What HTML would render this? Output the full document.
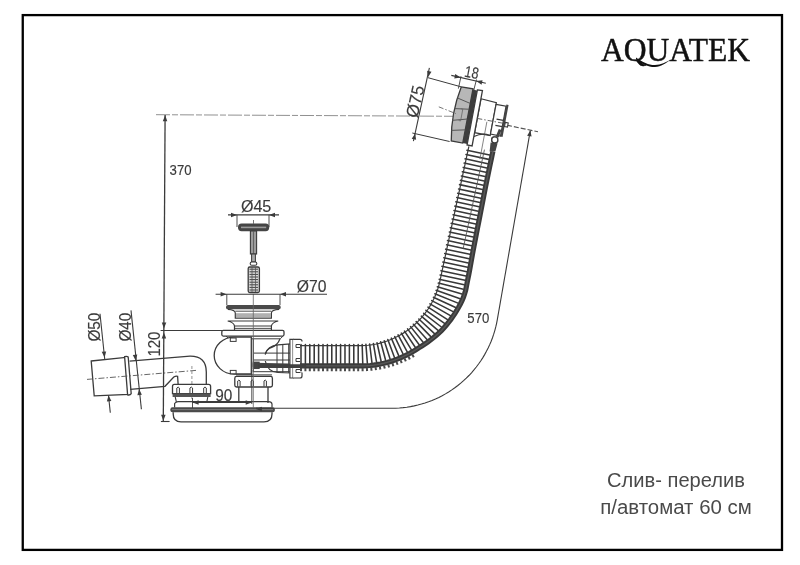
<!DOCTYPE html>
<html><head><meta charset="utf-8"><style>
html,body{margin:0;padding:0;background:#fff;width:800px;height:565px;overflow:hidden}
svg{display:block;will-change:transform}
</style></head><body>
<svg width="800" height="565" viewBox="0 0 800 565">
<rect x="22.75" y="15.1" width="759.25" height="534.8" fill="none" stroke="#000" stroke-width="2.3"/>
<text x="601.00" y="60.80" font-family="'Liberation Serif', serif" font-size="33" fill="#111" text-anchor="start" textLength="149" lengthAdjust="spacingAndGlyphs" stroke="#111" stroke-width="0.45">AQUATEK</text>
<path d="M636,57.6 C643,62.6 649,65.3 655,65.1 C661,64.9 666,62.1 670.6,59.8 C666,63.2 661,66.7 655,67 C648,67.1 642,63.9 636,59.2 Z" fill="#111"/>
<text x="676.00" y="487.30" font-family="'Liberation Sans', sans-serif" font-size="20" fill="#4a4a4a" text-anchor="middle" textLength="138" lengthAdjust="spacingAndGlyphs" >Слив- перелив</text>
<text x="676.00" y="514.30" font-family="'Liberation Sans', sans-serif" font-size="20" fill="#4a4a4a" text-anchor="middle" textLength="151.5" lengthAdjust="spacingAndGlyphs" >п/автомат 60 см</text>
<line x1="156.00" y1="114.70" x2="458.00" y2="116.30" stroke="#909090" stroke-width="1" stroke-dasharray="14 2 6 2"/>
<line x1="165.10" y1="115.00" x2="163.30" y2="421.00" stroke="#3b3b3b" stroke-width="1.3" />
<path d="M165.10,115.20 L167.31,121.21 L162.81,121.19 Z" fill="#3b3b3b"/>
<path d="M164.00,328.60 L161.79,322.59 L166.29,322.61 Z" fill="#3b3b3b"/>
<path d="M163.95,332.40 L166.16,338.41 L161.66,338.39 Z" fill="#3b3b3b"/>
<path d="M163.30,420.80 L161.09,414.79 L165.59,414.81 Z" fill="#3b3b3b"/>
<line x1="160.90" y1="421.50" x2="169.60" y2="421.50" stroke="#3b3b3b" stroke-width="1.1" />
<line x1="160.60" y1="330.50" x2="222.00" y2="330.50" stroke="#3b3b3b" stroke-width="1.1" />
<text x="169.60" y="175.00" font-family="'Liberation Sans', sans-serif" font-size="14" fill="#3b3b3b" text-anchor="start" textLength="22" lengthAdjust="spacingAndGlyphs" stroke="#3b3b3b" stroke-width="0.15">370</text>
<text x="159.80" y="356.60" font-family="'Liberation Sans', sans-serif" font-size="17" fill="#3b3b3b" text-anchor="start" textLength="25" lengthAdjust="spacingAndGlyphs" transform="rotate(-90 159.80 356.60)" stroke="#3b3b3b" stroke-width="0.15">120</text>
<line x1="100.00" y1="313.80" x2="110.30" y2="412.80" stroke="#3b3b3b" stroke-width="1.1" />
<path d="M104.55,357.60 L101.69,351.86 L106.17,351.40 Z" fill="#3b3b3b"/>
<path d="M108.50,395.30 L111.36,401.04 L106.88,401.50 Z" fill="#3b3b3b"/>
<text x="100.50" y="341.60" font-family="'Liberation Sans', sans-serif" font-size="17" fill="#3b3b3b" text-anchor="start" textLength="28.9" lengthAdjust="spacingAndGlyphs" transform="rotate(-90 100.50 341.60)" stroke="#3b3b3b" stroke-width="0.15">Ø50</text>
<line x1="131.00" y1="310.40" x2="141.40" y2="409.30" stroke="#3b3b3b" stroke-width="1.1" />
<path d="M135.70,360.80 L132.84,355.07 L137.31,354.60 Z" fill="#3b3b3b"/>
<path d="M139.00,389.00 L141.86,394.73 L137.39,395.20 Z" fill="#3b3b3b"/>
<text x="131.50" y="341.60" font-family="'Liberation Sans', sans-serif" font-size="17" fill="#3b3b3b" text-anchor="start" textLength="28.9" lengthAdjust="spacingAndGlyphs" transform="rotate(-90 131.50 341.60)" stroke="#3b3b3b" stroke-width="0.15">Ø40</text>
<path d="M91.2,361 L125.6,357.4 L128.7,394.4 L94.2,395.8 Z" stroke="#3b3b3b" stroke-width="1.3" fill="#fff" />
<path d="M124.6,356.6 Q127,355.8 128.2,357 L131.2,393.6 Q130,395.6 127.6,394.8 Z" stroke="#3b3b3b" stroke-width="1.3" fill="#fff" />
<path d="M129.6,361.2 L190,356.2 Q206.2,356 206.3,372 L206.3,384" stroke="#3b3b3b" stroke-width="1.3" fill="none" />
<path d="M130.2,389.4 L165,386.3 L173.8,377 Q176,375.6 177.6,376.3 L178.1,384" stroke="#3b3b3b" stroke-width="1.3" fill="none" />
<line x1="87.00" y1="379.40" x2="196.00" y2="370.40" stroke="#555" stroke-width="0.9" stroke-dasharray="6 2 1.5 2"/>
<line x1="191.90" y1="366.00" x2="191.90" y2="402.00" stroke="#777" stroke-width="0.8" stroke-dasharray="3 2"/>
<path d="M174.4,384.4 L208.6,384.4 Q210.6,384.4 210.6,386.4 L210.6,393.7 L172.5,393.7 L172.5,386.4 Q172.5,384.4 174.4,384.4 Z" stroke="#3b3b3b" stroke-width="1.3" fill="#fff" />
<path d="M176.79999999999998,393 L176.79999999999998,388 Q178.1,386 179.4,388 L179.4,393" stroke="#3b3b3b" stroke-width="1" fill="none" />
<path d="M189.95,393 L189.95,388 Q191.25,386 192.55,388 L192.55,393" stroke="#3b3b3b" stroke-width="1" fill="none" />
<path d="M203.7,393 L203.7,388 Q205,386 206.3,388 L206.3,393" stroke="#3b3b3b" stroke-width="1" fill="none" />
<rect x="172.6" y="393.6" width="38" height="3.4" fill="#555"/>
<path d="M175.2,397 L176.4,401.8 M207.8,397 L206.8,401.8" stroke="#3b3b3b" stroke-width="1.1" fill="none" />
<path d="M236.6,376.4 L270.6,376.4 Q272.4,376.4 272.4,378.2 L272.4,385.2 Q272.4,387 270.6,387 L236.6,387 Q234.8,387 234.8,385.2 L234.8,378.2 Q234.8,376.4 236.6,376.4 Z" stroke="#3b3b3b" stroke-width="1.3" fill="#fff" />
<path d="M237.70000000000002,386.5 L237.70000000000002,381 Q238.9,379 240.1,381 L240.1,386.5" stroke="#3b3b3b" stroke-width="1" fill="none" />
<path d="M251.10000000000002,386.5 L251.10000000000002,381 Q252.3,379 253.5,381 L253.5,386.5" stroke="#3b3b3b" stroke-width="1" fill="none" />
<path d="M264.0,386.5 L264.0,381 Q265.2,379 266.4,381 L266.4,386.5" stroke="#3b3b3b" stroke-width="1" fill="none" />
<path d="M238.8,387 L238.8,403 M268,387 L268,403" stroke="#3b3b3b" stroke-width="1.3" fill="none" />
<path d="M174.6,407.4 L174.6,403.5 Q176,401.7 178,401.7 L268.5,401.7 Q271.6,401.7 272,404 L272,407.4" stroke="#3b3b3b" stroke-width="1.2" fill="none" />
<rect x="170.4" y="407.3" width="104.4" height="4.9" rx="2" fill="#4a4a4a"/>
<line x1="172.00" y1="409.60" x2="273.00" y2="409.60" stroke="#888" stroke-width="0.8" />
<path d="M173.2,412.2 L173.2,414 Q173.2,421.8 181,421.8 L264,421.8 Q272,421.8 272,414 L272,412.2" stroke="#3b3b3b" stroke-width="1.3" fill="none" />
<line x1="192.50" y1="402.50" x2="251.80" y2="402.50" stroke="#3b3b3b" stroke-width="1.1" />
<path d="M192.60,402.50 L198.60,400.25 L198.60,404.75 Z" fill="#3b3b3b"/>
<path d="M251.70,402.50 L245.70,404.75 L245.70,400.25 Z" fill="#3b3b3b"/>
<line x1="192.50" y1="398.00" x2="192.50" y2="408.00" stroke="#3b3b3b" stroke-width="0.9" />
<line x1="251.80" y1="370.00" x2="251.80" y2="404.00" stroke="#3b3b3b" stroke-width="0.9" />
<text x="215.20" y="400.90" font-family="'Liberation Sans', sans-serif" font-size="16" fill="#3b3b3b" text-anchor="start" textLength="17.1" lengthAdjust="spacingAndGlyphs" stroke="#3b3b3b" stroke-width="0.15">90</text>
<path d="M530.35,130.30 L529.66,134.24 L528.98,138.19 L528.29,142.13 L527.60,146.08 L526.91,150.02 L526.22,153.97 L525.53,157.91 L524.85,161.86 L524.16,165.80 L523.47,169.75 L522.78,173.69 L522.09,177.64 L521.40,181.58 L520.71,185.53 L520.03,189.47 L519.34,193.42 L518.65,197.36 L517.96,201.30 L517.27,205.25 L516.58,209.19 L515.90,213.14 L515.21,217.08 L514.52,221.03 L513.83,224.97 L513.14,228.92 L512.45,232.86 L511.76,236.81 L511.08,240.75 L510.39,244.70 L509.70,248.64 L509.01,252.59 L508.32,256.53 L507.63,260.48 L506.95,264.42 L506.26,268.37 L505.57,272.31 L504.88,276.25 L504.19,280.20 L503.50,284.14 L502.81,288.09 L502.13,292.03 L501.44,295.98 L500.75,299.92 L500.06,303.87 L499.37,307.81 L498.68,311.76 L498.00,315.70 L497.31,319.65 L496.60,323.32 L495.76,326.96 L494.80,330.58 L493.71,334.15 L492.50,337.69 L491.17,341.19 L489.71,344.63 L488.14,348.02 L486.44,351.36 L484.63,354.63 L482.71,357.84 L480.68,360.98 L478.54,364.04 L476.29,367.03 L473.94,369.94 L471.49,372.76 L468.94,375.50 L466.30,378.15 L463.57,380.70 L460.75,383.16 L457.85,385.51 L454.86,387.77 L451.80,389.91 L448.66,391.95 L445.46,393.88 L442.19,395.69 L438.86,397.39 L435.47,398.98 L432.03,400.44 L428.54,401.78 L425.00,403.00 L421.43,404.09 L417.82,405.06 L414.17,405.91 L410.50,406.62 L406.81,407.21 L403.10,407.66 L399.37,407.99 L395.64,408.18 L391.90,408.25 L256.00,408.25" stroke="#3b3b3b" stroke-width="1.1" fill="none"/>
<path d="M530.40,130.30 L531.57,136.60 L527.14,135.82 Z" fill="#3b3b3b"/>
<path d="M255.90,409.10 L261.90,406.85 L261.90,411.35 Z" fill="#3b3b3b"/>
<text x="467.30" y="322.70" font-family="'Liberation Sans', sans-serif" font-size="14.5" fill="#3b3b3b" text-anchor="start" textLength="22" lengthAdjust="spacingAndGlyphs" stroke="#3b3b3b" stroke-width="0.15">570</text>
<line x1="507.00" y1="125.20" x2="538.00" y2="131.80" stroke="#555" stroke-width="1.1" stroke-dasharray="5 2"/>
<rect x="226" y="305" width="54.7" height="4.4" rx="2" fill="#4a4a4a"/>
<path d="M228,309.4 Q235,309.8 235.3,313 L235.3,318.2 L271.4,318.2 L271.4,313 Q271.6,309.8 279,309.4" stroke="#3b3b3b" stroke-width="1.2" fill="#fff" />
<line x1="235.30" y1="311.20" x2="271.40" y2="311.20" stroke="#3b3b3b" stroke-width="0.9" />
<rect x="236" y="313.2" width="35" height="4" fill="#b0b0b0"/>
<path d="M227.7,321 L278.2,321 Q272,322.5 271.4,326 L271.4,330.3 M227.7,321 Q234,322.5 234.5,326 L234.5,330.3" stroke="#3b3b3b" stroke-width="1.2" fill="none" />
<line x1="234.50" y1="328.40" x2="271.40" y2="328.40" stroke="#3b3b3b" stroke-width="0.9" />
<line x1="234.50" y1="326.00" x2="271.40" y2="326.00" stroke="#3b3b3b" stroke-width="1" />
<rect x="221.8" y="330.3" width="62.2" height="5.8" rx="1.5" fill="#fff" stroke="#3b3b3b" stroke-width="1.3"/>
<path d="M226,336.1 L229,338.8 L280.3,338.8 L283,336.1" stroke="#3b3b3b" stroke-width="1" fill="none" />
<path d="M251.3,337.2 L234,337.2 A19.8,18.4 0 0 0 234,374 L251.3,374 Z" stroke="#3b3b3b" stroke-width="1.3" fill="#fff" />
<rect x="230.3" y="338" width="5.8" height="3.4" fill="#fff" stroke="#3b3b3b" stroke-width="1"/>
<rect x="230.3" y="370.4" width="5.8" height="3.4" fill="#fff" stroke="#3b3b3b" stroke-width="1"/>
<line x1="253.30" y1="338.80" x2="253.30" y2="372.00" stroke="#3b3b3b" stroke-width="1.1" />
<path d="M280,338.8 Q277.5,345.8 270.6,347.8 Q265.6,350.5 265.3,354.4" stroke="#3b3b3b" stroke-width="1.2" fill="none" />
<path d="M265.3,354.4 Q267.5,345.8 278,344.9 L290.8,343.8 M265.3,361 Q267.5,372 278,372.5 L290.8,373" stroke="#3b3b3b" stroke-width="1.2" fill="none" />
<line x1="253.80" y1="353.10" x2="290.00" y2="353.10" stroke="#3b3b3b" stroke-width="1" />
<line x1="253.80" y1="360.00" x2="290.00" y2="360.00" stroke="#3b3b3b" stroke-width="1" />
<line x1="277.00" y1="345.00" x2="277.00" y2="372.40" stroke="#3b3b3b" stroke-width="1" />
<line x1="282.80" y1="344.60" x2="282.80" y2="372.70" stroke="#3b3b3b" stroke-width="1" />
<line x1="288.70" y1="344.00" x2="288.70" y2="372.90" stroke="#3b3b3b" stroke-width="1" />
<line x1="253.00" y1="371.70" x2="290.00" y2="371.70" stroke="#3b3b3b" stroke-width="1" />
<line x1="236.00" y1="374.90" x2="272.00" y2="374.90" stroke="#3b3b3b" stroke-width="1" />
<line x1="252.70" y1="364.80" x2="300.00" y2="365.80" stroke="#444" stroke-width="4" />
<rect x="252.7" y="361.6" width="7" height="7.4" fill="#444"/>
<path d="M289.9,339.3 L293.1,339.3 L293.1,378 L289.9,378 Z" stroke="#3b3b3b" stroke-width="1.2" fill="#fff" />
<path d="M293.1,339.3 L300,339.3 Q302,339.3 302,341.3 L302,376 Q302,378 300,378 L293.1,378" stroke="#3b3b3b" stroke-width="1.2" fill="#fff" />
<path d="M302,344.5 L296,344.5 L296,347.5 L302,347.5" stroke="#3b3b3b" stroke-width="1" fill="none" />
<path d="M302,358.5 L296,358.5 L296,361.5 L302,361.5" stroke="#3b3b3b" stroke-width="1" fill="none" />
<path d="M302,369.5 L296,369.5 L296,372.5 L302,372.5" stroke="#3b3b3b" stroke-width="1" fill="none" />
<line x1="253.30" y1="294.00" x2="253.30" y2="408.00" stroke="#666" stroke-width="0.8" />
<line x1="228.00" y1="214.90" x2="279.00" y2="214.90" stroke="#3b3b3b" stroke-width="1.1" />
<path d="M237.00,214.90 L231.00,217.15 L231.00,212.65 Z" fill="#3b3b3b"/>
<path d="M269.00,214.90 L275.00,212.65 L275.00,217.15 Z" fill="#3b3b3b"/>
<line x1="237.00" y1="214.90" x2="237.00" y2="227.00" stroke="#3b3b3b" stroke-width="0.9" />
<line x1="269.00" y1="214.90" x2="269.00" y2="227.00" stroke="#3b3b3b" stroke-width="0.9" />
<text x="240.90" y="211.90" font-family="'Liberation Sans', sans-serif" font-size="15.8" fill="#3b3b3b" text-anchor="start" textLength="30.4" lengthAdjust="spacingAndGlyphs" stroke="#3b3b3b" stroke-width="0.15">Ø45</text>
<rect x="238" y="223.6" width="31.2" height="7.6" rx="3.6" fill="#454545"/>
<rect x="241" y="226.6" width="25.2" height="1.6" fill="#9a9a9a"/>
<line x1="253.50" y1="220.00" x2="253.50" y2="224.00" stroke="#666" stroke-width="0.9" />
<rect x="250.4" y="231" width="6.2" height="23" fill="#9c9c9c" stroke="#3b3b3b" stroke-width="1.1"/>
<line x1="253.50" y1="231.00" x2="253.50" y2="254.00" stroke="#555" stroke-width="0.8" />
<rect x="251.6" y="254" width="3.8" height="8" fill="#aaa" stroke="#3b3b3b" stroke-width="1"/>
<rect x="250.2" y="262" width="6.6" height="3.2" rx="1.5" fill="#fff" stroke="#3b3b3b" stroke-width="1.1"/>
<rect x="248.2" y="267" width="11.2" height="25.5" rx="1.5" fill="#d8d8d8" stroke="#3b3b3b" stroke-width="1.3"/>
<line x1="249.50" y1="269.20" x2="258.00" y2="269.20" stroke="#444" stroke-width="1" />
<line x1="249.50" y1="271.80" x2="258.00" y2="271.80" stroke="#444" stroke-width="1" />
<line x1="249.50" y1="274.40" x2="258.00" y2="274.40" stroke="#444" stroke-width="1" />
<line x1="249.50" y1="277.00" x2="258.00" y2="277.00" stroke="#444" stroke-width="1" />
<line x1="249.50" y1="279.60" x2="258.00" y2="279.60" stroke="#444" stroke-width="1" />
<line x1="249.50" y1="282.20" x2="258.00" y2="282.20" stroke="#444" stroke-width="1" />
<line x1="249.50" y1="284.80" x2="258.00" y2="284.80" stroke="#444" stroke-width="1" />
<line x1="249.50" y1="287.40" x2="258.00" y2="287.40" stroke="#444" stroke-width="1" />
<line x1="249.50" y1="290.00" x2="258.00" y2="290.00" stroke="#444" stroke-width="1" />
<line x1="252.00" y1="267.00" x2="252.00" y2="292.00" stroke="#555" stroke-width="0.8" />
<line x1="255.50" y1="267.00" x2="255.50" y2="292.00" stroke="#555" stroke-width="0.8" />
<line x1="215.60" y1="294.20" x2="327.00" y2="294.20" stroke="#3b3b3b" stroke-width="1.1" />
<path d="M226.60,294.20 L220.60,296.45 L220.60,291.95 Z" fill="#3b3b3b"/>
<path d="M280.00,294.20 L286.00,291.95 L286.00,296.45 Z" fill="#3b3b3b"/>
<line x1="226.80" y1="294.20" x2="226.80" y2="305.00" stroke="#3b3b3b" stroke-width="0.9" />
<line x1="280.00" y1="294.20" x2="280.00" y2="305.00" stroke="#3b3b3b" stroke-width="0.9" />
<text x="296.80" y="292.00" font-family="'Liberation Sans', sans-serif" font-size="16" fill="#3b3b3b" text-anchor="start" textLength="29.7" lengthAdjust="spacingAndGlyphs" stroke="#3b3b3b" stroke-width="0.15">Ø70</text>
<path d="M300.00,356.90 L359.70,356.90 L362.87,356.86 L366.04,356.72 L369.20,356.47 L372.35,356.11 L375.49,355.64 L378.61,355.07 L381.71,354.39 L384.78,353.60 L387.83,352.72 L390.85,351.72 L393.83,350.63 L396.77,349.44 L399.67,348.14 L402.53,346.75 L405.34,345.26 L408.09,343.68 L410.79,342.01 L413.44,340.24 L416.11,338.50 L418.72,336.66 L421.27,334.73 L423.76,332.72 L426.20,330.64 L428.58,328.47 L430.89,326.23 L433.11,323.88 L435.23,321.44 L437.26,318.92 L439.21,316.33 L441.09,313.68 L442.88,310.97 L444.58,308.19 L446.19,305.35 L447.71,302.45 L449.14,299.51 L450.48,296.51 L451.65,293.44 L452.67,290.32 L453.57,287.16 L454.24,283.95 L455.06,279.97 L455.89,276.01 L456.71,272.04 L457.51,268.07 L458.29,264.10 L459.08,260.13 L459.86,256.16 L460.64,252.18 L461.44,248.21 L462.25,244.25 L463.07,240.28 L463.88,236.31 L464.69,232.35 L465.50,228.38 L466.32,224.41 L467.13,220.45 L467.94,216.48 L468.76,212.51 L469.57,208.55 L470.38,204.58 L471.19,200.62 L472.01,196.65 L472.82,192.68 L473.63,188.72 L474.44,184.75 L475.26,180.78 L476.09,176.82 L476.93,172.86 L477.77,168.90 L478.61,164.94 L479.45,160.98 L480.29,157.02 L481.13,153.06 L481.96,149.09" stroke="#fff" stroke-width="31" fill="none"/>
<path d="M300.00,354.60 L359.70,354.60 L362.79,354.55 L365.88,354.39 L368.96,354.13 L372.03,353.76 L375.08,353.29 L378.12,352.72 L381.14,352.04 L384.13,351.26 L387.09,350.38 L390.02,349.40 L392.92,348.32 L395.78,347.14 L398.60,345.87 L401.37,344.50 L404.09,343.04 L406.76,341.48 L409.38,339.84 L411.94,338.11 L414.44,336.29 L416.88,334.39 L419.25,332.41 L421.56,330.34 L423.79,328.21 L426.02,326.06 L428.18,323.84 L430.28,321.56 L432.30,319.19 L434.23,316.76 L436.09,314.26 L437.86,311.70 L439.55,309.07 L441.15,306.38 L442.65,303.64 L444.07,300.84 L445.39,298.00 L446.62,295.11 L447.74,292.17 L448.77,289.20 L449.70,286.18 L450.53,283.12 L451.37,279.18 L452.23,275.22 L453.08,271.26 L453.93,267.30 L454.78,263.35 L455.63,259.39 L456.48,255.43 L457.33,251.47 L458.19,247.51 L459.04,243.56 L459.89,239.60 L460.74,235.64 L461.59,231.68 L462.44,227.72 L463.29,223.76 L464.15,219.81 L465.00,215.85 L465.85,211.89 L466.70,207.93 L467.55,203.97 L468.40,200.01 L469.25,196.06 L470.11,192.10 L470.96,188.14 L471.81,184.18 L472.66,180.22 L473.51,176.27 L474.36,172.31 L475.21,168.35 L476.07,164.39 L476.92,160.43 L477.77,156.47 L478.62,152.52 L479.47,148.56" stroke="#3d3d3d" stroke-width="1" fill="none" stroke-dasharray="0" style="display:none"/>
<path d="M301.00,344.60 L301.00,363.40 M305.40,344.60 L305.40,363.40 M309.80,344.60 L309.80,363.40 M314.20,344.60 L314.20,363.40 M318.60,344.60 L318.60,363.40 M323.00,344.60 L323.00,363.40 M327.39,344.60 L327.40,363.40 M331.79,344.60 L331.80,363.40 M336.19,344.60 L336.20,363.40 M340.59,344.60 L340.60,363.40 M344.99,344.60 L345.00,363.40 M349.39,344.60 L349.40,363.40 M353.79,344.60 L353.80,363.40 M358.19,344.60 L358.20,363.40 M362.17,344.56 L362.75,363.38 M365.92,344.35 L367.37,363.17 M369.65,343.98 L371.97,362.75 M373.36,343.44 L376.56,362.13 M377.04,342.71 L381.11,361.28 M380.69,341.82 L385.62,360.23 M384.29,340.77 L390.09,358.98 M387.83,339.55 L394.48,357.50 M391.32,338.17 L398.81,355.83 M394.74,336.62 L403.06,353.97 M398.08,334.92 L407.22,351.90 M401.34,333.07 L411.28,349.65 M404.51,331.06 L415.23,347.20 M407.59,328.91 L419.18,344.72 M410.57,326.63 L423.15,342.23 M413.42,324.20 L427.00,339.52 M416.17,321.65 L430.78,336.66 M418.81,318.98 L434.48,333.66 M421.30,316.18 L438.02,330.45 M423.67,313.27 L441.37,327.01 M425.90,310.26 L444.53,323.38 M427.99,307.14 L447.54,319.60 M429.94,303.93 L450.41,315.69 M431.73,300.64 L453.10,311.63 M433.36,297.26 L455.63,307.43 M434.85,293.82 L458.01,303.13 M436.16,290.30 L460.13,298.67 M437.32,286.73 L461.87,294.05 M438.31,283.11 L463.30,289.33 M439.20,279.19 L464.19,284.69 M440.11,274.95 L465.06,280.32 M441.04,270.65 L465.92,276.01 M441.96,266.35 L466.76,271.69 M442.89,262.05 L467.55,267.36 M443.81,257.75 L468.33,263.02 M444.74,253.45 L469.11,258.69 M445.66,249.15 L469.88,254.36 M446.59,244.84 L470.69,250.03 M447.51,240.54 L471.53,245.71 M448.44,236.24 L472.37,241.39 M449.36,231.94 L473.22,237.07 M450.29,227.64 L474.06,232.75 M451.21,223.34 L474.90,228.43 M452.14,219.03 L475.74,224.11 M453.06,214.73 L476.58,219.79 M453.99,210.43 L477.42,215.47 M454.92,206.13 L478.26,211.15 M455.84,201.83 L479.10,206.83 M456.77,197.53 L479.95,202.51 M457.69,193.22 L480.79,198.19 M458.62,188.92 L481.63,193.87 M459.54,184.62 L482.47,189.55 M460.47,180.32 L483.31,185.23 M461.39,176.02 L484.17,180.92 M462.32,171.72 L485.06,176.61 M463.24,167.41 L485.96,172.30 M464.17,163.11 L486.86,167.99 M465.09,158.81 L487.76,163.69 M466.02,154.51 L488.66,159.38 M466.94,150.21 L489.55,155.07" stroke="#383838" stroke-width="1.55" stroke-linecap="round" fill="none"/>
<path d="M300.00,345.70 L359.69,345.70 L362.49,345.65 L365.27,345.51 L368.05,345.27 L370.82,344.94 L373.58,344.52 L376.32,344.00 L379.04,343.39 L381.74,342.69 L384.41,341.89 L387.06,341.01 L389.67,340.03 L392.25,338.97 L394.79,337.82 L397.29,336.59 L399.75,335.27 L402.16,333.87 L404.52,332.38 L406.83,330.82 L409.09,329.18 L411.29,327.47 L413.43,325.68 L415.51,323.82 L417.52,321.89 L419.47,319.89 L421.34,317.83 L423.15,315.70 L424.88,313.52 L426.54,311.27 L428.12,308.98 L429.62,306.63 L431.04,304.23 L432.38,301.78 L433.64,299.29 L434.81,296.76 L435.89,294.19 L436.88,291.58 L437.79,288.94 L438.61,286.28 L439.33,283.58 L439.98,280.77 L440.82,276.91 L441.67,272.95 L442.52,268.99 L443.37,265.03 L444.22,261.07 L445.07,257.12 L445.92,253.16 L446.78,249.20 L447.63,245.24 L448.48,241.28 L449.33,237.33 L450.18,233.37 L451.03,229.41 L451.88,225.45 L452.74,221.49 L453.59,217.53 L454.44,213.58 L455.29,209.62 L456.14,205.66 L456.99,201.70 L457.84,197.74 L458.70,193.79 L459.55,189.83 L460.40,185.87 L461.25,181.91 L462.10,177.95 L462.95,173.99 L463.80,170.04 L464.66,166.08 L465.51,162.12 L466.36,158.16 L467.21,154.20 L468.06,150.25 L468.91,146.29" stroke="#3b3b3b" stroke-width="1.2" fill="none"/>
<path d="M463.17,248.59 L464.02,244.63 L464.87,240.67 L465.73,236.71 L466.58,232.75 L467.43,228.79 L468.28,224.84 L469.13,220.88 L469.98,216.92 L470.83,212.96 L471.69,209.00 L472.54,205.05 L473.39,201.09 L474.24,197.13 L475.09,193.17 L475.94,189.21 L476.79,185.25 L477.65,181.30 L478.50,177.34 L479.35,173.38 L480.20,169.42 L481.05,165.46 L481.90,161.51 L482.75,157.55 L483.61,153.59 L484.46,149.63" stroke="#555" stroke-width="0.9" fill="none"/>
<path d="M300.00,365.90 L359.71,365.90 L363.18,365.87 L366.65,365.73 L370.12,365.47 L373.58,365.09 L377.02,364.59 L380.45,363.98 L383.85,363.25 L387.23,362.40 L390.58,361.44 L393.90,360.37 L397.18,359.18 L400.42,357.88 L403.61,356.48 L406.76,354.96 L409.85,353.34 L412.88,351.61 L415.86,349.78 L418.78,347.86 L421.80,346.05 L424.76,344.14 L427.67,342.13 L430.51,340.01 L433.33,337.83 L436.09,335.55 L438.79,333.17 L441.38,330.67 L443.83,328.03 L446.20,325.29 L448.47,322.47 L450.68,319.58 L452.81,316.62 L454.83,313.57 L456.76,310.45 L458.60,307.26 L460.36,304.01 L462.00,300.68 L463.42,297.26 L464.61,293.75 L465.68,290.19 L466.35,286.65 L467.16,282.57 L467.95,278.60 L468.75,274.63 L469.50,270.65 L470.21,266.67 L470.93,262.68 L471.64,258.69 L472.36,254.70 L473.10,250.72 L473.88,246.75 L474.65,242.77 L475.43,238.80 L476.20,234.82 L476.97,230.85 L477.75,226.87 L478.52,222.90 L479.30,218.92 L480.07,214.95 L480.84,210.97 L481.62,207.00 L482.39,203.02 L483.17,199.05 L483.94,195.07 L484.71,191.10 L485.49,187.12 L486.26,183.15 L487.08,179.18 L487.91,175.22 L488.73,171.26 L489.56,167.29 L490.39,163.33 L491.21,159.37 L492.04,155.40 L492.87,151.44" stroke="#3a3a3a" stroke-width="5.2" fill="none"/>
<path d="M300.00,365.90 L359.71,365.90 L363.18,365.87 L366.65,365.73 L370.12,365.47 L373.58,365.09 L377.02,364.59 L380.45,363.98 L383.85,363.25 L387.23,362.40 L390.58,361.44 L393.90,360.37 L397.18,359.18 L400.42,357.88 L403.61,356.48 L406.76,354.96 L409.85,353.34 L412.88,351.61 L415.86,349.78 L418.78,347.86 L421.80,346.05 L424.76,344.14 L427.67,342.13 L430.51,340.01 L433.33,337.83 L436.09,335.55 L438.79,333.17 L441.38,330.67 L443.83,328.03 L446.20,325.29 L448.47,322.47 L450.68,319.58 L452.81,316.62 L454.83,313.57 L456.76,310.45 L458.60,307.26 L460.36,304.01 L462.00,300.68 L463.42,297.26 L464.61,293.75 L465.68,290.19 L466.35,286.65 L467.16,282.57 L467.95,278.60 L468.75,274.63 L469.50,270.65 L470.21,266.67 L470.93,262.68 L471.64,258.69 L472.36,254.70 L473.10,250.72 L473.88,246.75 L474.65,242.77 L475.43,238.80 L476.20,234.82 L476.97,230.85 L477.75,226.87 L478.52,222.90 L479.30,218.92 L480.07,214.95 L480.84,210.97 L481.62,207.00 L482.39,203.02 L483.17,199.05 L483.94,195.07 L484.71,191.10 L485.49,187.12 L486.26,183.15 L487.08,179.18 L487.91,175.22 L488.73,171.26 L489.56,167.29 L490.39,163.33 L491.21,159.37 L492.04,155.40 L492.87,151.44" stroke="#575757" stroke-width="1.4" fill="none"/>
<path d="M300.00,369.70 L359.71,369.70 L363.30,369.67 L366.91,369.52 L370.51,369.25 L374.09,368.85 L377.66,368.34 L381.22,367.70 L384.75,366.94 L388.25,366.06 L391.73,365.07 L395.17,363.95 L398.57,362.72 L401.92,361.37 L405.24,359.91 L408.50,358.34 L411.70,356.66 L414.68,354.97" stroke="#4a4a4a" stroke-width="3.2" fill="none" stroke-dasharray="2 2.4"/>
<path d="M481.01,98.78 L496.36,102.67 L490.20,135.59 L474.67,132.69 Z" stroke="#3b3b3b" stroke-width="1.2" fill="#fff" />
<path d="M496.05,104.34 L506.07,106.21 L500.50,136.00 L490.47,134.12 Z" stroke="#3b3b3b" stroke-width="1.2" fill="#fff" />
<path d="M506.39,104.54 L508.55,104.95 L502.57,136.89 L500.41,136.49 Z" fill="#444"/>
<path d="M505.29,122.34 L508.24,122.90 L507.47,127.02 L504.52,126.47 Z" stroke="#3b3b3b" stroke-width="1.1" fill="#fff" />
<path d="M496.54,119.08 L503.42,120.37 M495.39,125.27 L502.27,126.56" stroke="#3b3b3b" stroke-width="1.3" fill="none" />
<line x1="486.89" y1="121.75" x2="479.90" y2="159.10" stroke="#666" stroke-width="0.8" />
<path d="M474,136.6 Q482,132.5 489.6,135.2" stroke="#3b3b3b" stroke-width="1.1" fill="none" />
<circle cx="494.4" cy="139.6" r="2.8" fill="#fff" stroke="#3b3b3b" stroke-width="1.2"/>
<path d="M461.25,86.94 L473.01,88.83 L462.75,143.07 L451.25,140.92 Q450.89,112.98 461.25,86.94 Z" fill="#b7b7b7" stroke="#3b3b3b" stroke-width="1.3"/>
<line x1="457.37" y1="97.91" x2="469.99" y2="103.33" stroke="#555" stroke-width="1" />
<line x1="454.56" y1="108.58" x2="468.89" y2="109.22" stroke="#555" stroke-width="1" />
<line x1="452.25" y1="120.35" x2="467.05" y2="119.05" stroke="#555" stroke-width="1" />
<line x1="451.50" y1="130.39" x2="465.02" y2="129.86" stroke="#555" stroke-width="1" />
<path d="M460.84,108.73 L462.80,109.10 L460.60,120.90 L458.63,120.53" stroke="#666" stroke-width="0.8" fill="none" />
<path d="M472.83,89.21 L477.25,90.64 L467.28,143.92 L462.75,143.07 Z" fill="#3d3d3d"/>
<path d="M477.39,89.86 L482.44,90.60 L472.09,145.94 L467.07,145.00 Z" stroke="#3b3b3b" stroke-width="1.3" fill="#fff" />
<line x1="438.81" y1="106.85" x2="455.86" y2="113.60" stroke="#666" stroke-width="0.9" stroke-dasharray="5 2 1.5 2"/>
<line x1="477.33" y1="118.43" x2="504.86" y2="123.59" stroke="#555" stroke-width="0.9" stroke-dasharray="5 2 1.5 2"/>
<line x1="429.40" y1="67.80" x2="413.40" y2="141.20" stroke="#3b3b3b" stroke-width="1.1" />
<path d="M428.00,77.20 L427.08,70.86 L431.48,71.82 Z" fill="#3b3b3b"/>
<path d="M415.20,133.40 L416.12,139.74 L411.72,138.78 Z" fill="#3b3b3b"/>
<line x1="428.00" y1="77.70" x2="461.00" y2="86.80" stroke="#3b3b3b" stroke-width="1.0" />
<line x1="412.30" y1="133.00" x2="449.60" y2="141.50" stroke="#3b3b3b" stroke-width="1.0" />
<text x="417.60" y="118.60" font-family="'Liberation Sans', sans-serif" font-size="17.5" fill="#3b3b3b" text-anchor="start" textLength="32.5" lengthAdjust="spacingAndGlyphs" transform="rotate(-77.7 417.60 118.60)" stroke="#3b3b3b" stroke-width="0.15">Ø75</text>
<line x1="451.30" y1="75.40" x2="485.80" y2="83.30" stroke="#3b3b3b" stroke-width="1.1" />
<path d="M460.60,77.60 L454.25,78.46 L455.25,74.07 Z" fill="#3b3b3b"/>
<path d="M476.20,81.10 L482.55,80.24 L481.55,84.63 Z" fill="#3b3b3b"/>
<line x1="461.00" y1="76.20" x2="458.40" y2="88.60" stroke="#3b3b3b" stroke-width="0.9" />
<line x1="476.50" y1="79.50" x2="473.80" y2="90.00" stroke="#3b3b3b" stroke-width="0.9" />
<text x="463.80" y="76.40" font-family="'Liberation Sans', sans-serif" font-size="16" fill="#3b3b3b" text-anchor="start" textLength="14.2" lengthAdjust="spacingAndGlyphs" transform="rotate(10.5 463.80 76.40)" stroke="#3b3b3b" stroke-width="0.15">18</text>
<path d="M489.6,151.5 L495.4,151.5 L497.6,143.2 L490.6,142.6 Z" fill="#444"/>
<line x1="497.20" y1="137.00" x2="500.20" y2="129.50" stroke="#444" stroke-width="3" />
<circle cx="494.8" cy="139.9" r="3.1" fill="#fff" stroke="#3b3b3b" stroke-width="1.3"/>
<line x1="258.00" y1="366.20" x2="306.00" y2="366.20" stroke="#404040" stroke-width="3.8" />
</svg>
</body></html>
